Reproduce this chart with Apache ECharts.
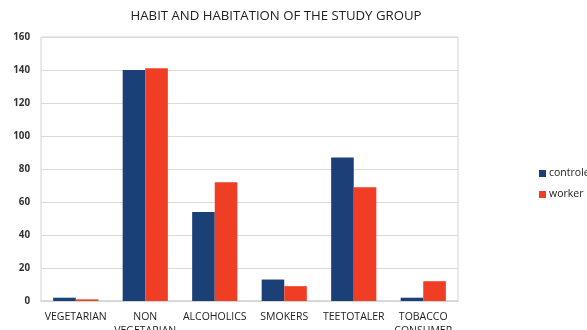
<!DOCTYPE html>
<html><head><meta charset="utf-8">
<script src="https://cdn.jsdelivr.net/npm/echarts@6/dist/echarts.min.js"></script>
<style>html,body{margin:0;padding:0;background:#fff;}#c{width:587px;height:330px;}</style>
</head><body><div id="c"></div>
<script>
const categories = ['VEGETARIAN', 'NON\nVEGETARIAN', 'ALCOHOLICS', 'SMOKERS', 'TEETOTALER', 'TOBACCO\nCONSUMER'];
const controle = [2, 140, 54, 13, 87, 2];
const worker = [1, 141, 72, 9, 69, 12];
const yTicks = [0, 20, 40, 60, 80, 100, 120, 140, 160];

const chart = echarts.init(document.getElementById('c'));
chart.setOption({
  animation: false,
  title: {
    text: 'HABIT AND HABITATION OF THE STUDY GROUP',
    left: 271, top: 5, textAlign: 'center',
    textStyle: {fontFamily: 'Open Sans', fontSize: 13.2, fontWeight: 'normal', color: '#222'}
  },
  legend: {
    orient: 'vertical', left: 534, top: 163, itemWidth: 7, itemHeight: 7, itemGap: 10,
    icon: 'rect',
    textStyle: {fontFamily: 'Open Sans', fontSize: 10.5, color: '#222', padding: [0,0,0,-2]},
    data: ['controle', 'worker']
  },
  grid: {left: 41, right: 129, top: 37, bottom: 29, outerBoundsMode: 'none', containLabel: false,
         show: true, borderColor: '#d4d4d4', borderWidth: 1},
  xAxis: {
    type: 'category', data: categories,
    axisLine: {lineStyle: {color: '#d4d4d4', width: 1.5}},
    axisTick: {show: false},
    axisLabel: {fontFamily: 'Open Sans', fontSize: 10.5, color: '#222', margin: 9, interval: 0, lineHeight: 14}
  },
  yAxis: {
    type: 'value', min: yTicks[0], max: yTicks[yTicks.length-1], interval: 20,
    axisLine: {show: false}, axisTick: {show: false},
    splitLine: {lineStyle: {color: '#d9d9d9', width: 1.2}},
    axisLabel: {fontFamily: 'Open Sans', fontSize: 9.8, fontWeight: 'bold', color: '#333', margin: 11}
  },
  series: [
    {name: 'controle', type: 'bar', data: controle, itemStyle: {color: '#1b4077'}, barGap: '0%', barCategoryGap: '35%'},
    {name: 'worker', type: 'bar', data: worker, itemStyle: {color: '#ef3e23'}}
  ]
});
</script></body></html>
